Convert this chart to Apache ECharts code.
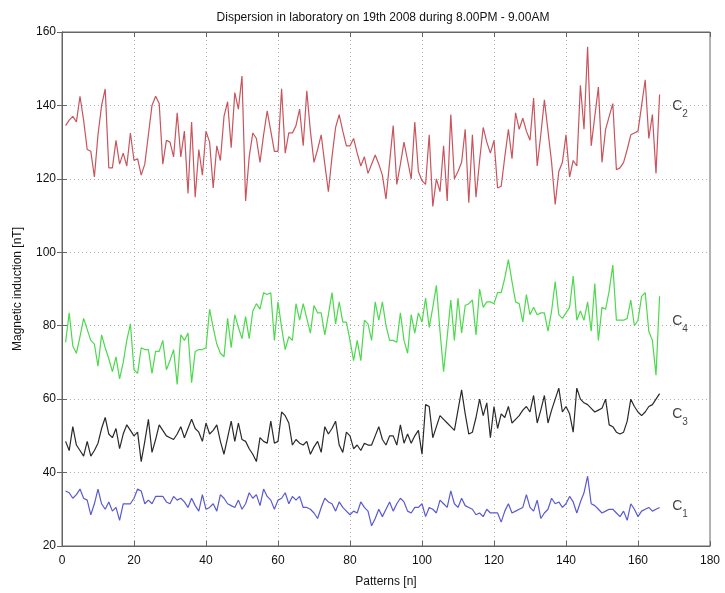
<!DOCTYPE html>
<html>
<head>
<meta charset="utf-8">
<script src="https://cdn.jsdelivr.net/npm/echarts@6/dist/echarts.min.js"></script>
<style>
  html, body { margin: 0; padding: 0; background: #fff; }
  #main { width: 725px; height: 593px; }
</style>
</head>
<body>
<div id="main"></div>
<script>
  // pattern numbers 1..166
  let patterns = [];
  for (let i = 1; i <= 166; i++) patterns.push(i);

  // C2 (red)
  let c2 = [134.5,136,137,135.5,142.5,136,128,127.5,120.5,132,
    140,144.5,123,123,130.5,124,127,123.5,132.5,125,
    125.5,121,124,132,140,142.5,140.5,124,130.5,130,
    126,138,126,133,116,135.5,115,128,121,133,
    130,117.5,129,125,137,141,128.5,143.5,139,148,
    114,126,132.5,131,124.5,132,138.5,133,127.5,127.5,
    144.5,127,132.5,132.5,134.5,139,129,144,133,124.5,
    128,132,124,116.5,126,134,137.5,133,129,129,
    131,127,123.5,126,121.5,124,126.5,124,121,114.5,
    124.5,134.5,118.5,124,130,125,120,135.5,122,119.5,
    118.5,132,112.5,120,116.5,129,114,137.5,120,122,
    124.5,133.5,113.5,132,115,125,134,130,127,130.5,
    117.5,118,126,133.5,125.5,138,133.5,136.5,133,130.5,
    142,123.5,132,141.5,133,124.5,113,122,124.5,132,
    120.5,125,123.5,145.5,133.5,156,129,137,145,124.5,
    133.5,137,140.5,122.5,123,124.5,128,132,132.5,133,
    140,147,131,137.5,121.5,143];

  // C4 (green)
  let c4 = [75.5,83.5,74.5,72.5,77,82,79,76,75,69,
    77.5,74,71,67.5,71.5,65.5,70,76,80.5,68,
    67,74,73.5,73.5,67,73,73,76,68,70.5,
    73.5,64,77.5,76,78,64.5,73,73.5,73.5,74,
    84.5,79.5,75,72.5,71.5,82,74,83,79.5,76.5,
    82.5,76.5,84,86,84.5,89,88.5,89,76,86.5,
    79.5,73.5,77,76,86,81.5,86,82,78,85.5,
    83.5,83.5,77.5,83,89,80.5,86.5,81,81,76,
    70.5,76,70.5,81.5,80.5,76,86.5,81.5,86.5,80,
    76,76,75.5,83.5,76,72.5,83,78,83.5,81,
    87.5,79.5,85,91,78.5,67.5,77,87,76,87.5,
    78,85.5,86,87,77.5,90,85,86.5,86.5,86,
    89,89,93,98,92,86.5,86,81,88.5,83,
    85,83,83.5,83.5,78.5,84,92,83,82,83.5,
    85,93.5,81.5,84,81.5,86.5,78.5,91.5,76,85,
    84.5,89.5,96.5,81.5,81.5,81.5,82,87,80,81.5,
    88,89,78.5,76,66.5,88];

  // C3 (black)
  let c3 = [48.5,46,52.5,47.5,46,44.5,48.5,44.5,46,48,
    52,55,50.5,49.5,52,46.5,50.5,53,51.5,50,
    51,43,48.5,54.5,45.5,49,53,51.5,50,49.5,
    49,50.5,52.5,49.5,52,54.5,52,51,48.5,53.5,
    50.5,51.5,53,48.5,45,49.5,54,48.5,53.5,49,
    48.5,46.5,45,43,49.5,48.5,48,54,48,48.5,
    56.5,55.5,53.5,47.5,49,48,47.5,48.5,45,47,
    48.5,45.5,52.5,50.5,52,54,47.5,45.5,51,50,
    46.5,47.5,46,48,47.5,47.5,50,52.5,49,47.5,
    50,50,47.5,53,48,50.5,48,50,51.5,45,
    58.5,58,49.5,52.5,55.5,54.5,53.5,52.5,51.5,57,
    62.5,56,50.5,51,55,60,55.5,59,49.5,58,
    52,56,55,58,53.5,54.5,55.5,57,58,56.5,
    61,53.5,57,61,53.5,57,60,63,56.5,58,
    56,51,63,60,59,58.5,57.5,56.5,57,57.5,
    60,53,52.5,51,50.5,51,54,60,58,56.5,
    55.5,56.5,58,58.5,60,61.5];

  // C1 (blue)
  let c1 = [35,34.5,33,34,35.5,33,32.5,28.5,31.5,35.5,
    31.5,30,32,29.5,30.5,27,31.5,31.5,31.5,33,
    35.5,35,31.5,32.5,31.5,33.5,33.5,33.5,32,31.5,
    33.5,32.5,33,32,30.5,33,31,29.5,34,30,
    30.5,31.5,29.5,34,33,31.5,31,30.5,32.5,30,
    31.5,34.5,33,34,31,35.5,33.5,32.5,30,32.5,
    33,34.5,31.5,33.5,32.5,33.5,30.5,30.5,30,29,
    27.5,30.5,33,32,31.5,29.5,32,30.5,29.5,28.5,
    29.5,29,32,30.5,29.5,25.5,27.5,30,28,30,
    32,29.5,31.5,33,32,29.5,29,30.5,30.5,31.5,
    28,30.5,30,29,32.5,31.5,30.5,35,31.5,30.5,
    33,31,30.5,30,28.5,29,28,30,29,29,
    29,26.5,29.5,31.5,29,29.5,30,30.5,34,30.5,
    29.5,32.5,27.5,29,30,33,31.5,32,30.5,31.5,
    33.5,32,29,32,34.5,39,31.5,31,30,29,
    29.5,30,30,29,28,29.5,27,31.5,30,28,
    29.5,30,30.5,29.5,30,30.5];

  // curve labels and where they sit
  let curveNames = ['2', '4', '3', '1'];
  let curveLabelY = [139, 80.5, 55, 30];
  let curveLabelX = 169.5;

  let xTicks = [0, 20, 40, 60, 80, 100, 120, 140, 160, 180];
  let yTicks = [20, 40, 60, 80, 100, 120, 140, 160];

  let fontFamily = 'Liberation Sans, Arial, sans-serif';

  function toPoints(values) {
    return values.map((v, i) => [patterns[i], v]);
  }

  let chart = echarts.init(document.getElementById('main'));

  let gridLine = {
    show: true,
    lineStyle: { color: '#b0b0b0', type: [1, 3], width: 1 }
  };

  let option = {
    backgroundColor: '#fff',
    animation: false,
    textStyle: { fontFamily: fontFamily },
    title: {
      text: 'Dispersion in laboratory on 19th 2008 during 8.00PM - 9.00AM',
      left: 378,
      top: 7,
      textAlign: 'center',
      textStyle: { fontSize: 12, fontWeight: 'normal', color: '#111', fontFamily: fontFamily }
    },
    grid: {
      left: 62, right: 15, top: 32, bottom: 45,
      show: true, borderColor: '#666', borderWidth: 1, backgroundColor: '#fff'
    },
    xAxis: [{
      type: 'value',
      min: xTicks[0],
      max: xTicks[xTicks.length - 1],
      interval: 20,
      name: 'Patterns [n]',
      nameLocation: 'middle',
      nameGap: 30,
      nameTextStyle: { fontSize: 12, color: '#111' },
      axisLine: { lineStyle: { color: '#666' } },
      axisTick: { inside: true, length: 5, lineStyle: { color: '#666' } },
      axisLabel: { fontSize: 12, color: '#111', margin: 9 },
      splitLine: gridLine
    }, {
      type: 'value',
      position: 'top',
      min: xTicks[0],
      max: xTicks[xTicks.length - 1],
      interval: 20,
      axisLine: { lineStyle: { color: '#666' } },
      axisTick: { inside: true, length: 5, lineStyle: { color: '#666' } },
      axisLabel: { show: false },
      splitLine: { show: false }
    }],
    yAxis: [{
      type: 'value',
      min: yTicks[0],
      max: yTicks[yTicks.length - 1],
      interval: 20,
      name: 'Magnetic induction [nT]',
      nameLocation: 'middle',
      nameGap: 38,
      nameTextStyle: { fontSize: 12, color: '#111' },
      axisLine: { show: true, lineStyle: { color: '#666' } },
      axisTick: { show: true, inside: true, length: 5, lineStyle: { color: '#666' } },
      axisLabel: { fontSize: 12, color: '#111', margin: 6 },
      splitLine: gridLine
    }, {
      type: 'value',
      position: 'right',
      min: yTicks[0],
      max: yTicks[yTicks.length - 1],
      interval: 20,
      axisLine: { show: true, lineStyle: { color: '#666' } },
      axisTick: { show: true, inside: true, length: 5, lineStyle: { color: '#666' } },
      axisLabel: { show: false },
      splitLine: { show: false }
    }],
    series: [
      { name: 'C2', type: 'line', data: toPoints(c2), showSymbol: false, lineStyle: { color: '#c8545d', width: 1.2 } },
      { name: 'C4', type: 'line', data: toPoints(c4), showSymbol: false, lineStyle: { color: '#4cd94c', width: 1.2 } },
      { name: 'C3', type: 'line', data: toPoints(c3), showSymbol: false, lineStyle: { color: '#2a2a2a', width: 1.2 } },
      { name: 'C1', type: 'line', data: toPoints(c1), showSymbol: false, lineStyle: { color: '#5a5ad0', width: 1.2 } },
      {
        type: 'scatter',
        symbolSize: 0,
        silent: true,
        data: curveLabelY.map((y, i) => ({ value: [curveLabelX, y], sub: curveNames[i] })),
        label: {
          show: true,
          position: 'right',
          distance: 0,
          formatter: p => '{b|C}{s|' + p.data.sub + '}',
          rich: {
            b: { fontSize: 14, color: '#111', verticalAlign: 'top', lineHeight: 20 },
            s: { fontSize: 10, color: '#111', verticalAlign: 'bottom', lineHeight: 20 }
          }
        }
      }
    ]
  };

  chart.setOption(option);
</script>
</body>
</html>
